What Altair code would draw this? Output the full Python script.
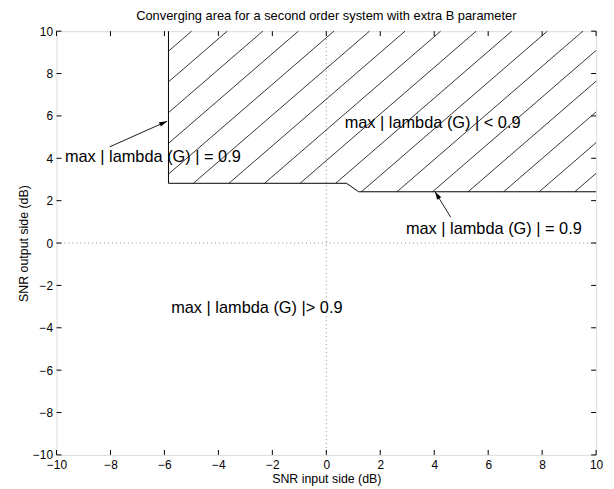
import math
import altair as alt
import numpy as np
import pandas as pd

# ---------------- data ----------------
# boundary max|lambda(G)| = 0.9
bnd_x = [-5.85, -5.85, 0.75, 1.2, 10.0]
bnd_y = [10.0, 2.82, 2.82, 2.42, 2.42]

x_ticks = [-10, -8, -6, -4, -2, 0, 2, 4, 6, 8, 10]
y_ticks = [-10, -8, -6, -4, -2, 0, 2, 4, 6, 8, 10]

ann_text = ["max | lambda (G) | < 0.9", "max | lambda (G) | = 0.9",
            "max | lambda (G) | = 0.9", "max | lambda (G) |> 0.9"]
ann_x = [0.68, -9.69, 2.95, -5.75]
ann_y = [5.66, 4.07, 0.655, -3.09]

arr_x0 = [-8.03, 4.61]
arr_y0 = [4.54, 1.22]
arr_x1 = [-5.9, 4.03]
arr_y1 = [5.75, 2.42]

# hatch pattern parameters (slope and spacing in data units)
hatch_slope = 1.1
hatch_step = 1.45
hatch_c0 = 15.49

# ---------------- layout ----------------
W, H = 545, 428
FONT = "Liberation Sans"

# ---------------- derived tables ----------------
bnd = pd.DataFrame({"x": bnd_x, "y": bnd_y, "o": range(len(bnd_x))})

lx = np.array(bnd_x[1:])
ly = np.array(bnd_y[1:])


def lower(x):
    return float(np.interp(x, lx, ly))


hatch_rows = []
c_max = 10 - hatch_slope * bnd_x[0]
k_lo = math.floor((hatch_c0 - c_max) / hatch_step)
hid = 0
for k in range(k_lo, 60):
    c = hatch_c0 - k * hatch_step
    f = lambda x: hatch_slope * x + c - lower(x)
    xl, xr = bnd_x[0], 10.0
    if f(xr) < 0:
        break
    if f(xl) >= 0:
        xe = xl
    else:
        a, b = xl, xr
        for _ in range(60):
            mid = (a + b) / 2
            if f(mid) < 0:
                a = mid
            else:
                b = mid
        xe = b
    xo = min(10.0, (10 - c) / hatch_slope)
    if xo > xe:
        hatch_rows.append({"id": hid, "o": 0, "x": xe, "y": hatch_slope * xe + c})
        hatch_rows.append({"id": hid, "o": 1, "x": xo, "y": hatch_slope * xo + c})
        hid += 1
hatch = pd.DataFrame(hatch_rows)

ann = pd.DataFrame({"t": ann_text, "x": ann_x, "y": ann_y})
arrows = pd.DataFrame({"x": arr_x0, "y": arr_y0, "x2": arr_x1, "y2": arr_y1})
arrows["ang"] = [
    (math.degrees(math.atan2((x1 - x0) * W / 20, (y1 - y0) * H / 20)) + 360) % 360
    for x0, y0, x1, y1 in zip(arr_x0, arr_y0, arr_x1, arr_y1)
]
xt = pd.DataFrame({"v": x_ticks})
yt = pd.DataFrame({"v": y_ticks})

# ---------------- scales / axes ----------------
xs = alt.Scale(domain=[-10, 10], nice=False, zero=False)
ys = alt.Scale(domain=[-10, 10], nice=False, zero=False)
lab = "replace(datum.label, '-', '\u2212')"
xaxis = alt.Axis(values=x_ticks, title="SNR input side (dB)", tickSize=0, domain=False,
                 grid=False, labelFlush=False, labelOverlap=False, labelPadding=5,
                 labelExpr=lab, format="d", labelFontSize=12, titleFontSize=12.5,
                 titleFontWeight="normal", titlePadding=2, labelColor="black",
                 titleColor="black", labelFont=FONT, titleFont=FONT)
yaxis = alt.Axis(values=y_ticks, title="SNR output side (dB)", tickSize=0, domain=False,
                 grid=False, labelFlush=False, labelOverlap=False, labelPadding=4,
                 labelExpr=lab, format="d", labelFontSize=12, titleFontSize=12.5,
                 titleFontWeight="normal", titlePadding=2, labelColor="black",
                 titleColor="black", labelFont=FONT, titleFont=FONT)


def X(f="x"):
    return alt.X(f"{f}:Q", scale=xs, axis=xaxis)


def Y(f="y"):
    return alt.Y(f"{f}:Q", scale=ys, axis=yaxis)


dots_v = alt.Chart(pd.DataFrame({"x": [0]})).mark_rule(
    color="#8a8a8a", strokeDash=[1, 3], strokeWidth=1).encode(x=X())
dots_h = alt.Chart(pd.DataFrame({"y": [0]})).mark_rule(
    color="#8a8a8a", strokeDash=[1, 3], strokeWidth=1).encode(y=Y())

hatch_layer = alt.Chart(hatch).mark_line(color="black", strokeWidth=0.8).encode(
    x=X(), y=Y(), detail="id:N", order="o:Q")

bnd_layer = alt.Chart(bnd).mark_line(color="black", strokeWidth=1).encode(
    x=X(), y=Y(), order="o:Q")

text_layer = alt.Chart(ann).mark_text(
    align="left", baseline="middle", fontSize=16.5, font=FONT, color="black").encode(
    x=X(), y=Y(), text="t:N")

arrow_lines = alt.Chart(arrows).mark_rule(color="black", strokeWidth=0.9).encode(
    x=X(), y=Y(), x2="x2:Q", y2="y2:Q")
arrow_heads = alt.Chart(arrows).mark_point(
    shape="M0,0 L0.6,2 L-0.6,2 Z", filled=True, color="black", opacity=1,
    size=64, strokeWidth=0).encode(
    x=X("x2"), y=Y("y2"), angle=alt.Angle("ang:Q", scale=None))

bx_ticks = alt.Chart(xt).mark_rule(color="black", strokeWidth=1).encode(
    x=X("v"), y=alt.value(H), y2=alt.value(H - 5))
tx_ticks = alt.Chart(xt).mark_rule(color="black", strokeWidth=1).encode(
    x=X("v"), y=alt.value(0), y2=alt.value(5))
ly_ticks = alt.Chart(yt).mark_rule(color="black", strokeWidth=1).encode(
    y=Y("v"), x=alt.value(0), x2=alt.value(5))
ry_ticks = alt.Chart(yt).mark_rule(color="black", strokeWidth=1).encode(
    y=Y("v"), x=alt.value(W), x2=alt.value(W - 5))

chart = alt.layer(
    dots_v, dots_h, hatch_layer, bnd_layer, text_layer, arrow_lines, arrow_heads,
    bx_ticks, tx_ticks, ly_ticks, ry_ticks
).properties(
    width=W, height=H,
    title=alt.TitleParams("Converging area for a second order system with extra B parameter",
                          fontSize=13, fontWeight="normal", font=FONT, color="black",
                          anchor="middle", offset=0, dy=-2),
    autosize=alt.AutoSizeParams(type="none"),
    padding={"left": 49, "top": 21, "right": 10, "bottom": 30},
).configure_view(stroke="black", strokeWidth=1).configure(background="white")

chart.save("out.html", embed_options={"renderer": "svg", "actions": False})
